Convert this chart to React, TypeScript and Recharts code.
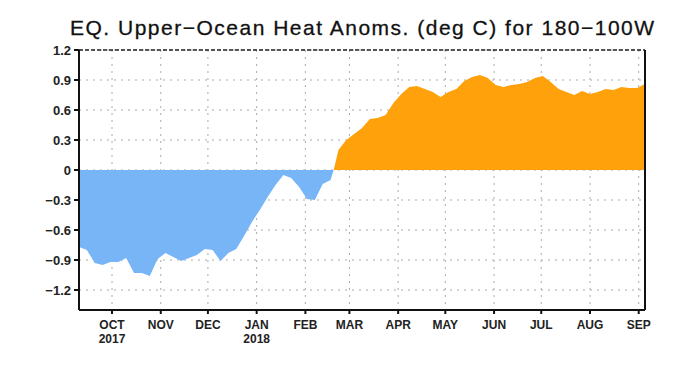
import React from 'react';
import {
	AreaChart,
	Area,
	XAxis,
	YAxis,
	CartesianGrid,
	ReferenceLine,
} from 'recharts';

// days counted from 10 Sep 2017, sampled roughly every pentad
const days = [
	0, 5, 10, 15, 20, 25, 30, 35, 40, 45, 50, 55, 60, 65, 70, 75, 80, 85, 90, 95,
	100, 105, 110, 115, 120, 125, 130, 135, 140, 145, 150, 155, 160, 162, 165, 170,
	175, 180, 185, 190, 195, 200, 205, 210, 215, 220, 225, 230, 235, 240, 245, 250,
	255, 260, 265, 270, 275, 280, 285, 290, 295, 300, 305, 310, 315, 320, 325, 330,
	335, 340, 345, 350, 355, 360,
];

const anoms = [
	-0.77, -0.8, -0.93, -0.95, -0.92, -0.92, -0.88, -1.03, -1.03, -1.06, -0.89, -0.83,
	-0.87, -0.91, -0.88, -0.85, -0.79, -0.8, -0.91, -0.83, -0.79, -0.66, -0.52, -0.4,
	-0.27, -0.15, -0.05, -0.08, -0.17, -0.29, -0.3, -0.14, -0.1, 0, 0.2, 0.3, 0.36,
	0.42, 0.51, 0.52, 0.55, 0.67, 0.76, 0.83, 0.84, 0.81, 0.78, 0.73, 0.78, 0.81,
	0.89, 0.93, 0.95, 0.92, 0.85, 0.83, 0.85, 0.86, 0.88, 0.92, 0.94, 0.88, 0.81,
	0.78, 0.75, 0.79, 0.76, 0.78, 0.81, 0.8, 0.83, 0.82, 0.82, 0.86,
];

const monthDays = [21, 52, 82, 113, 144, 172, 203, 233, 264, 294, 325, 356];
const monthLabels = ['OCT', 'NOV', 'DEC', 'JAN', 'FEB', 'MAR', 'APR', 'MAY', 'JUN', 'JUL', 'AUG', 'SEP'];
const yearLabels: Record<string, string> = { OCT: '2017', JAN: '2018' };

const yTicks = [-1.2, -0.9, -0.6, -0.3, 0, 0.3, 0.6, 0.9, 1.2];

const data = days.map((d, i) => ({
	day: d,
	neg: Math.min(anoms[i], 0),
	pos: Math.max(anoms[i], 0),
}));

const tickFont = '"Liberation Sans", Arial, sans-serif';

function fmtY(v: number) {
	if (v === 0) return '0';
	const s = Math.abs(v).toFixed(1);
	return v < 0 ? '\u2212' + s : s;
}

function MonthTick(props: any) {
	const { x, y, payload } = props;
	const idx = monthDays.indexOf(payload.value);
	const label = monthLabels[idx] ?? '';
	const year = yearLabels[label];
	return (
		<g transform={`translate(${x},${y})`}>
			<text x={0} y={13} textAnchor="middle" fontSize={12} fontWeight="bold" fontFamily={tickFont} fill="#222">
				{label}
			</text>
			{year && (
				<text x={0} y={27} textAnchor="middle" fontSize={12} fontWeight="bold" fontFamily={tickFont} fill="#222">
					{year}
				</text>
			)}
		</g>
	);
}

export default function App() {
	return (
		<div style={{ position: 'absolute', left: 0, top: 0, width: 694, height: 373, background: '#fff' }}>
			<div
				style={{
					position: 'absolute',
					left: 70,
					top: 16,
					fontFamily: tickFont,
					fontSize: 21,
					letterSpacing: 1.5,
					whiteSpace: 'nowrap',
					color: '#111',
					WebkitTextStroke: '0.3px #111',
				}}
			>
				EQ. Upper{'\u2212'}Ocean Heat Anoms. (deg C) for 180{'\u2212'}100W
			</div>
			<AreaChart
				width={694}
				height={373}
				data={data}
				margin={{ top: 50, right: 49, left: 0, bottom: 23 }}
			>
				<CartesianGrid stroke="#aaa" strokeDasharray="2 5" />
				<XAxis
					dataKey="day"
					type="number"
					domain={[0, 360]}
					ticks={monthDays}
					interval={0}
					height={40}
					tick={<MonthTick />}
					tickSize={4}
					stroke="#111"
					strokeWidth={2}
				/>
				<YAxis
					type="number"
					domain={[-1.4, 1.2]}
					ticks={yTicks}
					interval={0}
					width={79}
					tickSize={5}
					tickMargin={3}
					tickFormatter={fmtY}
					tick={{ fontSize: 13, fontWeight: 'bold', fontFamily: tickFont, fill: '#222' }}
					stroke="#111"
					strokeWidth={2}
				/>
				<Area
					type="linear"
					dataKey="neg"
					baseValue={0}
					stroke="none"
					fill="#77b5f6"
					fillOpacity={1}
					isAnimationActive={false}
				/>
				<Area
					type="linear"
					dataKey="pos"
					baseValue={0}
					stroke="none"
					fill="#ffa10a"
					fillOpacity={1}
					isAnimationActive={false}
				/>
				<ReferenceLine y={1.2} stroke="#222" strokeWidth={1.5} strokeDasharray="4 2" />
				<ReferenceLine x={360} stroke="#111" strokeWidth={2} />
			</AreaChart>
		</div>
	);
}
